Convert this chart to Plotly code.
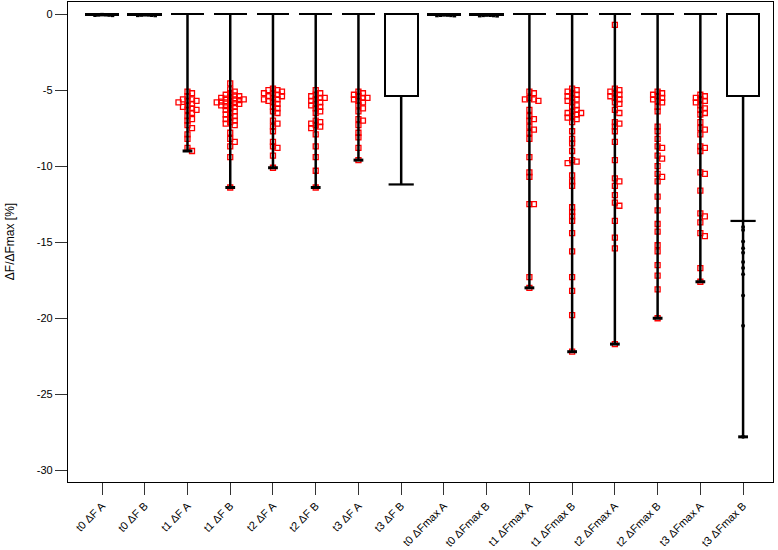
import plotly.graph_objects as go

categories = ["t0 ΔF A", "t0 ΔF B", "t1 ΔF A", "t1 ΔF B", "t2 ΔF A", "t2 ΔF B", "t3 ΔF A", "t3 ΔF B",
              "t0 ΔFmax A", "t0 ΔFmax B", "t1 ΔFmax A", "t1 ΔFmax B", "t2 ΔFmax A", "t2 ΔFmax B",
              "t3 ΔFmax A", "t3 ΔFmax B"]

bar_means = [-0.06, -0.06, -0.02, -0.02, -0.02, -0.02, -0.02, -5.35,
             -0.06, -0.06, -0.02, -0.02, -0.02, -0.02, -0.02, -5.4]
sd_lower = [None, None, None, None, None, None, None, -11.2,
            None, None, None, None, None, None, None, -13.6]

t0_dF_A = [-0.03, -0.04, -0.05, -0.06, -0.07, -0.08]
t0_dF_B = [-0.04, -0.05, -0.06, -0.07, -0.08, -0.09]
t1_dF_A = [-5.1, -5.2, -5.4, -5.6, -5.6, -5.7, -5.7, -5.8, -5.9, -6.0, -6.1, -6.2, -6.3, -6.3,
           -6.5, -6.7, -6.9, -7.0, -7.3, -7.5, -7.9, -8.2, -8.8, -9.0]
t1_dF_B = [-4.55, -4.95, -5.1, -5.2, -5.3, -5.35, -5.4, -5.45, -5.5, -5.55, -5.6, -5.6, -5.65,
           -5.7, -5.75, -5.8, -5.8, -5.85, -5.9, -5.95, -6.0, -6.05, -6.1, -6.2, -6.3, -6.4,
           -6.5, -6.6, -6.7, -6.8, -6.9, -7.0, -7.1, -7.2, -7.3, -7.8, -8.2, -8.4, -8.7, -9.4, -11.4]
t2_dF_A = [-4.9, -5.0, -5.0, -5.1, -5.2, -5.2, -5.3, -5.4, -5.4, -5.5, -5.6, -5.6, -5.7, -5.8,
           -5.9, -6.1, -6.2, -6.4, -6.5, -7.0, -7.2, -7.4, -7.7, -8.4, -8.7, -8.8, -9.3, -10.1]
t2_dF_B = [-5.0, -5.2, -5.3, -5.4, -5.5, -5.5, -5.6, -5.7, -5.8, -5.9, -6.0, -6.1, -6.2, -6.4,
           -6.5, -7.0, -7.1, -7.2, -7.3, -7.4, -7.5, -7.9, -8.7, -9.4, -10.3, -11.4]
t3_dF_A = [-5.1, -5.2, -5.3, -5.4, -5.5, -5.5, -5.6, -5.7, -5.8, -6.0, -6.2, -6.4, -6.9, -7.0,
           -7.3, -7.8, -8.1, -8.8, -9.6]
t3_dF_B = []
t0_dFmax_A = [-0.05, -0.06, -0.07, -0.08, -0.09, -0.1]
t0_dFmax_B = [-0.06, -0.07, -0.08, -0.09, -0.1, -0.11]
t1_dFmax_A = [-5.1, -5.2, -5.5, -5.6, -5.6, -5.7, -6.3, -6.7, -6.9, -7.0, -7.4, -7.6, -7.8, -8.2,
              -9.4, -10.4, -10.7, -12.5, -12.5, -17.3, -18.0]
t1_dFmax_B = [-4.9, -5.0, -5.1, -5.2, -5.3, -5.4, -5.5, -5.6, -5.7, -5.8, -6.0, -6.1, -6.3, -6.4,
              -6.5, -6.5, -6.6, -6.7, -6.8, -6.9, -7.1, -7.7, -8.2, -8.5, -9.0, -9.6, -9.7, -9.8,
              -10.6, -11.0, -11.3, -12.7, -13.0, -13.3, -13.6, -14.4, -15.6, -17.3, -18.2, -19.8, -22.2]
t2_dFmax_A = [-0.7, -4.9, -5.0, -5.1, -5.2, -5.3, -5.4, -5.5, -5.6, -5.8, -5.9, -6.3, -6.5, -7.1,
              -7.2, -7.4, -7.7, -8.4, -9.6, -10.8, -11.0, -11.3, -11.9, -12.4, -12.6, -13.6, -14.7,
              -15.4, -21.7]
t2_dFmax_B = [-5.1, -5.2, -5.3, -5.4, -5.5, -5.6, -5.7, -5.8, -6.1, -6.4, -7.4, -7.7, -8.2, -8.7,
              -8.8, -9.3, -9.5, -10.0, -10.5, -10.7, -11.0, -12.0, -12.9, -13.8, -14.3, -15.2, -15.6,
              -16.5, -17.2, -18.1, -20.0]
t3_dFmax_A = [-5.3, -5.4, -5.5, -5.6, -5.7, -5.8, -6.0, -6.2, -6.3, -6.5, -6.6, -7.1, -7.5, -7.6,
              -7.9, -8.7, -8.8, -9.0, -10.4, -10.5, -11.6, -13.1, -13.3, -13.7, -14.4, -14.6, -16.7, -17.6]
t3_dFmax_B = [-14.0, -14.2, -14.95, -15.4, -15.7, -16.3, -16.7, -17.1, -18.5, -20.5, -27.8]

group_points = [t0_dF_A, t0_dF_B, t1_dF_A, t1_dF_B, t2_dF_A, t2_dF_B, t3_dF_A, t3_dF_B,
                t0_dFmax_A, t0_dFmax_B, t1_dFmax_A, t1_dFmax_B, t2_dFmax_A, t2_dFmax_B,
                t3_dFmax_A, t3_dFmax_B]
point_style = ["flat", "flat", "red", "red", "red", "red", "red", "red",
               "flat", "flat", "red", "red", "red", "red", "red", "dot"]

# pixel scales of the plot (used only for the beeswarm spreading)
PX_PER_X = 42.73
PX_PER_Y = 15.34


def swarm(vals, d_px=4.0, th_px=3.0):
    placed = []
    out = []
    order = [0]
    for k in range(1, 30):
        order += [k, -k]
    for v in vals:
        yp = v * PX_PER_Y
        for slot in order:
            if all(not (s == slot and abs(p - yp) < th_px) for s, p in placed):
                placed.append((slot, yp))
                out.append(slot * d_px / PX_PER_X)
                break
    return out


fig = go.Figure()

# bars
fig.add_trace(go.Bar(
    x=list(range(len(categories))), y=bar_means, base=0, width=0.765,
    marker=dict(color="white", line=dict(color="black", width=2)),
    showlegend=False, hoverinfo="skip"))

# points
for i, pts in enumerate(group_points):
    if not pts:
        continue
    style = point_style[i]
    if style == "red":
        offs = swarm(pts, 4.5, 3.5)
        mk = dict(symbol="square-open", size=5, color="red", line=dict(color="red", width=1.3))
    elif style == "flat":
        offs = swarm(pts, 3.5, 3.0)
        mk = dict(symbol="square", size=3.5, color="black", line=dict(width=0))
    else:
        offs = [0] * len(pts)
        mk = dict(symbol="circle", size=4, color="black", line=dict(width=0))
    xs = [i + o for o in offs]
    fig.add_trace(go.Scatter(x=xs, y=pts, mode="markers", marker=mk, showlegend=False,
                             hoverinfo="skip"))

# vertical lines from bar to lowest value
lx, ly = [], []
min_x, min_y = [], []
sd_x, sd_y = [], []
for i, pts in enumerate(group_points):
    lows = []
    if pts and min(pts) < -1:
        lows.append(min(pts))
        min_x.append(i)
        min_y.append(min(pts))
    if sd_lower[i] is not None:
        lows.append(sd_lower[i])
        sd_x.append(i)
        sd_y.append(sd_lower[i])
    if lows:
        lx += [i, i, None]
        ly += [bar_means[i], min(lows), None]

fig.add_trace(go.Scatter(x=lx, y=ly, mode="lines", line=dict(color="black", width=2.5),
                         showlegend=False, hoverinfo="skip"))
fig.add_trace(go.Scatter(x=sd_x, y=sd_y, mode="markers",
                         marker=dict(symbol="line-ew", size=18, line=dict(color="black", width=2.2)),
                         showlegend=False, hoverinfo="skip"))
fig.add_trace(go.Scatter(x=min_x, y=min_y, mode="markers",
                         marker=dict(symbol="line-ew", size=7, line=dict(color="black", width=3)),
                         showlegend=False, hoverinfo="skip"))

font_family = "Liberation Sans, Arial, Helvetica, sans-serif"
fig.update_layout(
    width=778, height=550,
    margin=dict(l=68, r=5, t=1, b=65),
    plot_bgcolor="white", paper_bgcolor="white",
    font=dict(family=font_family, size=11, color="black"),
    bargap=0,
    xaxis=dict(
        range=[-0.796, 15.70], tickmode="array", tickvals=list(range(len(categories))),
        ticktext=categories, tickangle=-45, ticks="outside", ticklen=12, tickwidth=1.3,
        tickcolor="#333", showline=True, linecolor="black", linewidth=1.3, mirror=True,
        showgrid=False, zeroline=False, tickfont=dict(size=11)),
    yaxis=dict(
        range=[-30.77, 0.8], tickvals=[0, -5, -10, -15, -20, -25, -30],
        ticktext=["0", "-5", "-10", "-15", "-20", "-25", "-30"],
        ticks="outside", ticklen=12, tickwidth=1.3, tickcolor="#333",
        showline=True, linecolor="black", linewidth=1.3, mirror=True,
        showgrid=False, zeroline=False, tickfont=dict(size=11)),
    annotations=[dict(text="ΔF/ΔFmax [%]", xref="paper", yref="paper", x=-0.082, y=0.5,
                      xanchor="center", yanchor="middle", textangle=-90, showarrow=False,
                      font=dict(size=12))],
)

fig.write_html("out.html")
